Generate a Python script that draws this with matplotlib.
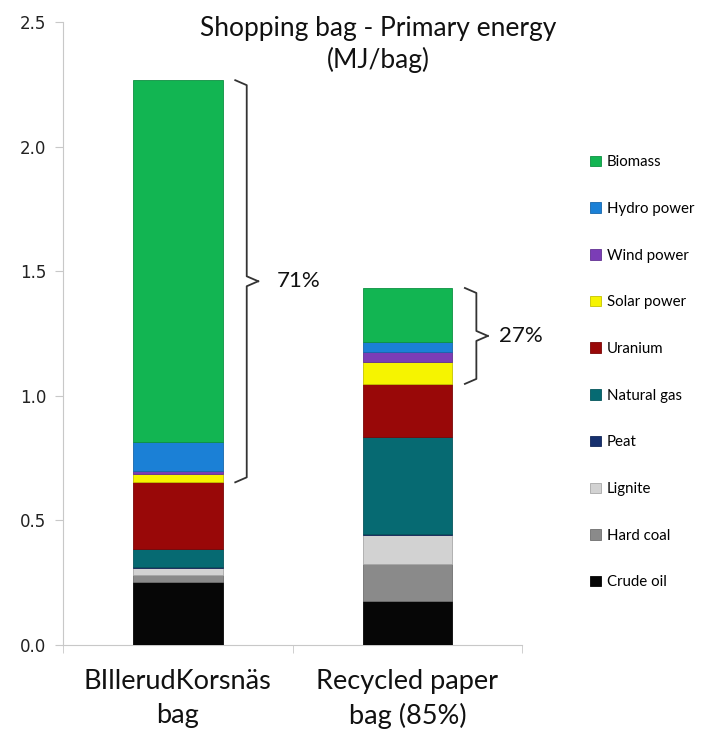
import numpy as np
import matplotlib
matplotlib.use("Agg")
import matplotlib.pyplot as plt

# values, MJ per bag, stacked bottom -> top
bags = ["BIllerudKorsnäs\nbag", "Recycled paper\nbag (85%)"]
sources = ["Crude oil", "Hard coal", "Lignite", "Peat", "Natural gas",
           "Uranium", "Solar power", "Wind power", "Hydro power", "Biomass"]
crude_oil = [0.253, 0.177]
hard_coal = [0.028, 0.149]
lignite = [0.028, 0.116]
peat = [0.003, 0.003]
natural_gas = [0.072, 0.390]
uranium = [0.269, 0.213]
solar = [0.032, 0.088]
wind = [0.012, 0.040]
hydro = [0.116, 0.040]
biomass = [1.454, 0.217]
renewable_pct = ["71%", "27%"]

colors = ["#060606", "#8a8a8a", "#d2d2d2", "#16306e", "#066a72",
          "#990808", "#f6f400", "#7b3db6", "#1b80d6", "#12b552"]

values = [crude_oil, hard_coal, lignite, peat, natural_gas,
          uranium, solar, wind, hydro, biomass]

fig = plt.figure(figsize=(7.21, 7.38), dpi=100)
ax = fig.add_axes([0.0874, 0.126, 0.637, 0.844])

x = np.arange(len(bags))
bottom = np.zeros(len(bags))
handles = []
for name, vals, col in zip(sources, values, colors):
    vals = np.array(vals)
    edge = tuple(c * 0.8 for c in matplotlib.colors.to_rgb(col))
    b = ax.bar(x, vals, 0.39, bottom=bottom, color=col, edgecolor=edge,
               linewidth=0.6, label=name, zorder=3)
    handles.append(b)
    bottom += vals

ax.set_xlim(-0.5, 1.5)
ax.set_ylim(0, 2.5)
ax.set_yticks(np.arange(0, 2.51, 0.5))
ax.set_yticklabels([f"{v:.1f}" for v in np.arange(0, 2.51, 0.5)],
                   fontsize=12, color="#222222")
ax.set_xticks(x)
ax.set_xticklabels(bags, fontsize=19.5, family="Lato", color="#111111",
                   linespacing=1.45)
ax.set_xticks([-0.5, 0.5, 1.5], minor=True)
ax.tick_params(axis="x", which="major", length=0, pad=17)
ax.tick_params(axis="x", which="minor", length=6, color="#c8c8c8")
ax.tick_params(axis="y", length=6, color="#c8c8c8", pad=6)
for s in ["top", "right"]:
    ax.spines[s].set_visible(False)
for s in ["left", "bottom"]:
    ax.spines[s].set_color("#c8c8c8")

# brackets around the renewable part
totals = bottom
renew_start = np.sum(values[:6], axis=0)
text_off = [0.43, 0.40]
for i in range(len(bags)):
    top = totals[i]
    low = renew_start[i]
    mid = (top + low) / 2
    xl, xv, xt = i + 0.25, i + 0.30, i + 0.35
    d = 0.02
    ax.plot([xl, xv, xv, xt], [top, top - d, mid + d, mid],
            color="#333333", lw=1.3, clip_on=False)
    ax.plot([xt, xv, xv, xl], [mid, mid - d, low + d, low],
            color="#333333", lw=1.3, clip_on=False)
    ax.text(i + text_off[i], mid, renewable_pct[i], fontsize=16, family="Lato",
            va="center", ha="left", color="#111111")

fig.text(0.525, 0.940, "Shopping bag - Primary energy\n(MJ/bag)",
         ha="center", va="center", fontsize=19, family="Lato",
         linespacing=1.3, color="#111111")

leg = fig.legend(handles[::-1], sources[::-1], loc="upper left",
                 bbox_to_anchor=(0.80, 0.808), frameon=False,
                 prop={"family": "Lato", "size": 10.8},
                 handlelength=0.7, handleheight=0.7, handletextpad=0.4,
                 labelspacing=2.18)

fig.savefig("out.png", dpi=100)
